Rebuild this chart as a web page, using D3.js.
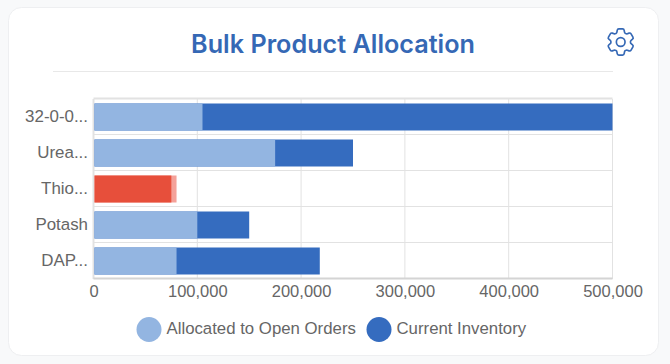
<!DOCTYPE html>
<html>
<head>
<meta charset="utf-8">
<title>Bulk Product Allocation</title>
<script src="https://d3js.org/d3.v7.min.js"></script>
<style>
    html, body { margin: 0; padding: 0; background: #f8f9fa; }
    svg { display: block; }
    text { font-family: "Liberation Sans", Arial, sans-serif; }
</style>
</head>
<body>
<svg id="chart" width="670" height="364"></svg>
<script>
    const products = ["32-0-0...", "Urea...", "Thio...", "Potash", "DAP..."];
    const allocated = [105000, 175000, 80000, 100000, 80000];
    const inventory = [500000, 250000, 75000, 150000, 218000];
    const xTicks = [0, 100000, 200000, 300000, 400000, 500000];
    const legendLabels = ["Allocated to Open Orders", "Current Inventory"];

    const lightBlue = "#93b5e1", darkBlue = "#356cbf";
    const lightRed = "#f4a199", darkRed = "#e74f3b";
    const gridColor = "#e2e2e2", labelColor = "#666";

    const svg = d3.select("#chart");

    // card
    svg.append("rect").attr("x", 8.5).attr("y", 7.5).attr("width", 650).attr("height", 348)
        .attr("rx", 13).attr("fill", "#fff").attr("stroke", "#eeeff1");

    svg.append("text").attr("x", 333).attr("y", 53)
        .attr("text-anchor", "middle")
        .style("font-family", "Inter")
        .style("font-size", "25.2px").style("font-weight", 600)
        .attr("fill", "#3568b5")
        .text("Bulk Product Allocation");

    svg.append("line").attr("x1", 53).attr("x2", 613).attr("y1", 71.5).attr("y2", 71.5)
        .attr("stroke", "#e8e8e8");

    // settings icon
    const gear = svg.append("g")
        .attr("transform", "translate(603.3,24.6) scale(1.45)")
        .attr("fill", "none").attr("stroke", "#3568b5").attr("stroke-width", 1.15)
        .attr("stroke-linejoin", "round");
    gear.append("path").attr("d", "M9.594 3.94c.09-.542.56-.94 1.11-.94h2.593c.55 0 1.02.398 1.11.94l.213 1.281c.063.374.313.686.645.87.074.04.147.083.22.127.325.196.72.257 1.075.124l1.217-.456a1.125 1.125 0 0 1 1.37.49l1.296 2.247a1.125 1.125 0 0 1-.26 1.431l-1.003.827c-.293.241-.438.613-.43.992a7.723 7.723 0 0 1 0 .255c-.008.378.137.75.43.991l1.004.827c.424.35.534.955.26 1.43l-1.298 2.247a1.125 1.125 0 0 1-1.369.491l-1.217-.456c-.355-.133-.75-.072-1.076.124a6.47 6.47 0 0 1-.22.128c-.331.183-.581.495-.644.869l-.213 1.281c-.09.543-.56.94-1.11.94h-2.594c-.55 0-1.019-.398-1.11-.94l-.213-1.281c-.062-.374-.312-.686-.644-.87a6.52 6.52 0 0 1-.22-.127c-.325-.196-.72-.257-1.076-.124l-1.217.456a1.125 1.125 0 0 1-1.369-.49l-1.297-2.247a1.125 1.125 0 0 1 .26-1.431l1.004-.827c.292-.24.437-.613.43-.991a6.932 6.932 0 0 1 0-.255c.007-.38-.138-.751-.43-.992l-1.004-.827a1.125 1.125 0 0 1-.26-1.43l1.297-2.247a1.125 1.125 0 0 1 1.37-.491l1.216.456c.356.133.751.072 1.076-.124.072-.044.146-.086.22-.128.332-.183.582-.495.644-.869l.214-1.28Z");
    gear.append("circle").attr("cx", 12).attr("cy", 12).attr("r", 3);

    // scales
    const x = d3.scaleLinear().domain([0, 500000]).range([93.5, 612.5]);
    const y = d3.scaleBand().domain(products).range([99, 279]).paddingInner(0.25).paddingOuter(0.125);

    // grid
    const grid = svg.append("g");
    grid.selectAll(".v").data(xTicks).enter().append("line")
        .attr("x1", d => x(d)).attr("x2", d => x(d))
        .attr("y1", 99).attr("y2", 279)
        .attr("stroke", gridColor).attr("stroke-width", d => d === 0 ? 2 : 1);
    const step = y.step();
    grid.selectAll(".h").data(d3.range(products.length + 1)).enter().append("line")
        .attr("x1", x(0)).attr("x2", x(500000))
        .attr("y1", i => 99 + i * step - 0.5).attr("y2", i => 99 + i * step - 0.5)
        .attr("stroke", i => i === products.length ? "#d4d4d4" : gridColor)
        .attr("stroke-width", i => i === 0 || i === products.length ? 2 : 1);

    // bars: whichever is longer goes behind, red when orders exceed the inventory
    const rows = products.map((p, i) => ({ p, a: allocated[i], v: inventory[i] }));
    const bars = svg.append("g");
    rows.forEach(d => {
        const over = d.a > d.v;
        const layers = over
            ? [{ value: d.a, color: lightRed }, { value: d.v, color: darkRed }]
            : [{ value: d.v, color: darkBlue }, { value: d.a, color: lightBlue }];
        bars.selectAll(null).data(layers).enter().append("rect")
            .attr("x", x(0) + 1)
            .attr("y", y(d.p))
            .attr("width", l => x(l.value) - x(0) - 1)
            .attr("height", y.bandwidth())
            .attr("fill", l => l.color);
    });

    // axes
    const xAxis = svg.append("g").attr("transform", "translate(0,279)")
        .call(d3.axisBottom(x).tickValues(xTicks).tickFormat(d3.format(",")).tickSize(0).tickPadding(6.5));
    xAxis.select(".domain").remove();
    xAxis.selectAll("text").style("font-family", "Liberation Sans").style("font-size", "16.5px").attr("fill", labelColor);

    const yAxis = svg.append("g").attr("transform", "translate(88,0)")
        .call(d3.axisLeft(y).tickSize(0).tickPadding(0));
    yAxis.select(".domain").remove();
    yAxis.selectAll("text").style("font-family", "Liberation Sans").style("font-size", "16.9px").attr("fill", labelColor);

    // legend
    const legend = svg.append("g");
    const legendX = [149, 379];
    const legendColors = [lightBlue, darkBlue];
    legend.selectAll("circle").data(legendLabels).enter().append("circle")
        .attr("cx", (d, i) => legendX[i]).attr("cy", 329.5).attr("r", 12.5)
        .attr("fill", (d, i) => legendColors[i]);
    legend.selectAll("text").data(legendLabels).enter().append("text")
        .attr("x", (d, i) => legendX[i] + 17.5).attr("y", 334)
        .style("font-size", "16.8px").attr("fill", labelColor)
        .text(d => d);
</script>
</body>
</html>
